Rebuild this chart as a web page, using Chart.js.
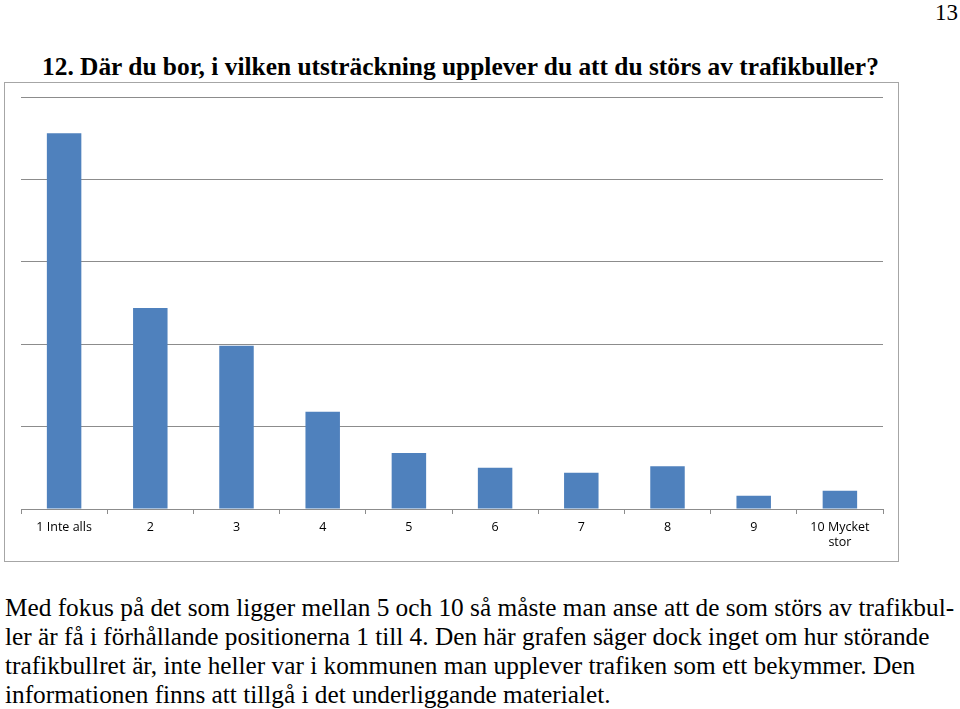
<!DOCTYPE html>
<html>
<head>
<meta charset="utf-8">
<script src="https://cdn.jsdelivr.net/npm/chart.js@4"></script>
<style>
  body { margin: 0; background: #fff; width: 960px; height: 709px; position: relative; overflow: hidden; }
  .serif { font-family: "Liberation Serif", "DejaVu Serif", serif; color: #000; position: absolute; white-space: nowrap; }
  #pageNo { right: 2px; top: 0px; font-size: 23px; }
  #title { left: 42px; top: 52px; font-size: 25.4px; font-weight: bold; }
  #box { position: absolute; left: 4px; top: 82px; width: 893px; height: 478px; border: 1px solid #a6a6a6; }
  #wrap { position: absolute; left: 0; top: 0; width: 893px; height: 478px; }
  #text { left: 5px; top: 593px; font-size: 25.3px; line-height: 29px; }
</style>
</head>
<body>
<div id="pageNo" class="serif">13</div>
<div id="title" class="serif">12. Där du bor, i vilken utsträckning upplever du att du störs av trafikbuller?</div>
<div id="box"><div id="wrap"><canvas id="disturb"></canvas></div></div>
<div id="text" class="serif">Med fokus på det som ligger mellan 5 och 10 så måste man anse att de som störs av trafikbul-<br>ler är få i förhållande positionerna 1 till 4. Den här grafen säger dock inget om hur störande<br>trafikbullret är, inte heller var i kommunen man upplever trafiken som ett bekymmer. Den<br>informationen finns att tillgå i det underliggande materialet.</div>
<script>
const categories = ["1 Inte alls", "2", "3", "4", "5", "6", "7", "8", "9", ["10 Mycket", "stor"]];
const answers = [228, 122, 99, 59, 34, 25, 22, 26, 8, 11];
const yMax = 250;
const yStep = 50;

const disturb = document.getElementById("disturb");

new Chart(disturb, {
  type: "bar",
  data: {
    labels: categories,
    datasets: [
      {
        data: answers,
        backgroundColor: "#4f81bd",
        barPercentage: 0.4,
        categoryPercentage: 1,
      },
    ],
  },
  options: {
    responsive: true,
    maintainAspectRatio: false,
    animation: false,
    layout: {
      padding: { left: 16, right: 15, top: 14, bottom: 14 },
    },
    plugins: {
      legend: { display: false },
      tooltip: { enabled: false },
    },
    scales: {
      x: {
        grid: {
          drawOnChartArea: false,
          tickLength: 5,
          color: "#8c8c8c",
        },
        border: { color: "#8c8c8c" },
        ticks: {
          color: "#000",
          padding: 6,
          maxRotation: 0,
          font: { family: "'Open Sans', 'Liberation Sans', sans-serif", size: 12.5 },
        },
        afterFit: (s) => { s.height = 38; },
      },
      y: {
        min: 0,
        max: yMax,
        ticks: { display: false, stepSize: yStep },
        grid: { color: "#8c8c8c", drawTicks: false },
        border: { display: false },
        afterFit: (s) => { s.width = 0; },
      },
    },
  },
});
</script>
</body>
</html>
